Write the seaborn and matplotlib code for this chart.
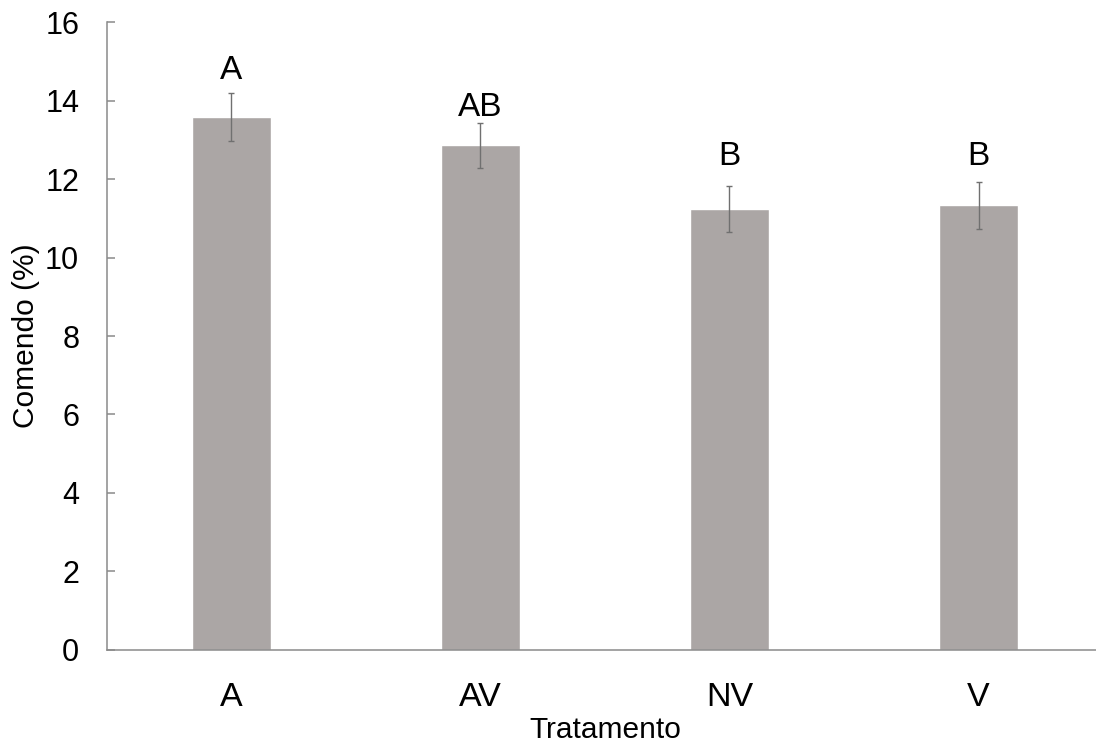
import matplotlib
matplotlib.use("Agg")
import matplotlib.pyplot as plt
import seaborn as sns
import pandas as pd

# Treatment means and their standard errors
tratamentos = ["A", "AV", "NV", "V"]
comendo = [13.58, 12.86, 11.24, 11.33]
erro = [0.60, 0.58, 0.58, 0.60]
letras = ["A", "AB", "B", "B"]
letras_y = [14.55, 13.60, 12.36, 12.36]
yticks = [0, 2, 4, 6, 8, 10, 12, 14, 16]

sns.set_theme(style="white")
plt.rcParams["font.family"] = ["Liberation Sans", "DejaVu Sans"]
plt.rcParams["text.color"] = "black"
plt.rcParams["axes.labelcolor"] = "black"
plt.rcParams["xtick.labelcolor"] = "black"
plt.rcParams["ytick.labelcolor"] = "black"

df = pd.DataFrame({"Tratamento": tratamentos, "Comendo": comendo})

fig = plt.figure(figsize=(10.96, 7.47), dpi=100)
ax = fig.add_axes([0.0976, 0.1299, 0.9088, 0.8406])

sns.barplot(data=df, x="Tratamento", y="Comendo", color="#aba6a5",
            saturation=1, width=0.32, errorbar=None, ax=ax)

ax.errorbar(range(len(tratamentos)), comendo, yerr=erro, fmt="none",
            ecolor="#707070", elinewidth=1.0, capsize=2.2, capthick=1.0)

for i, (lab, yy) in enumerate(zip(letras, letras_y)):
    ax.text(i, yy, lab, ha="center", va="baseline", fontsize=24, color="black")

ax.set_ylim(0, 16)
ax.set_xlim(-0.5, 3.5)
ax.set_yticks(yticks)
ax.set_yticklabels([str(v) for v in yticks])

for side in ["top", "right"]:
    ax.spines[side].set_visible(False)
for side in ["left", "bottom"]:
    ax.spines[side].set_color("#8a8a8a")
    ax.spines[side].set_linewidth(1.1)

ax.tick_params(axis="y", direction="in", length=6, width=1.1, color="#8a8a8a",
               labelsize=22, pad=20, left=True, labelcolor="black")
ax.tick_params(axis="x", length=0, labelsize=24.5, pad=23, labelcolor="black")

ax.set_xlabel("Tratamento", fontsize=21.5, labelpad=2, color="black")
ax.set_ylabel("Comendo (%)", fontsize=21.5, labelpad=4, color="black")

fig.savefig("out.png", dpi=100)
